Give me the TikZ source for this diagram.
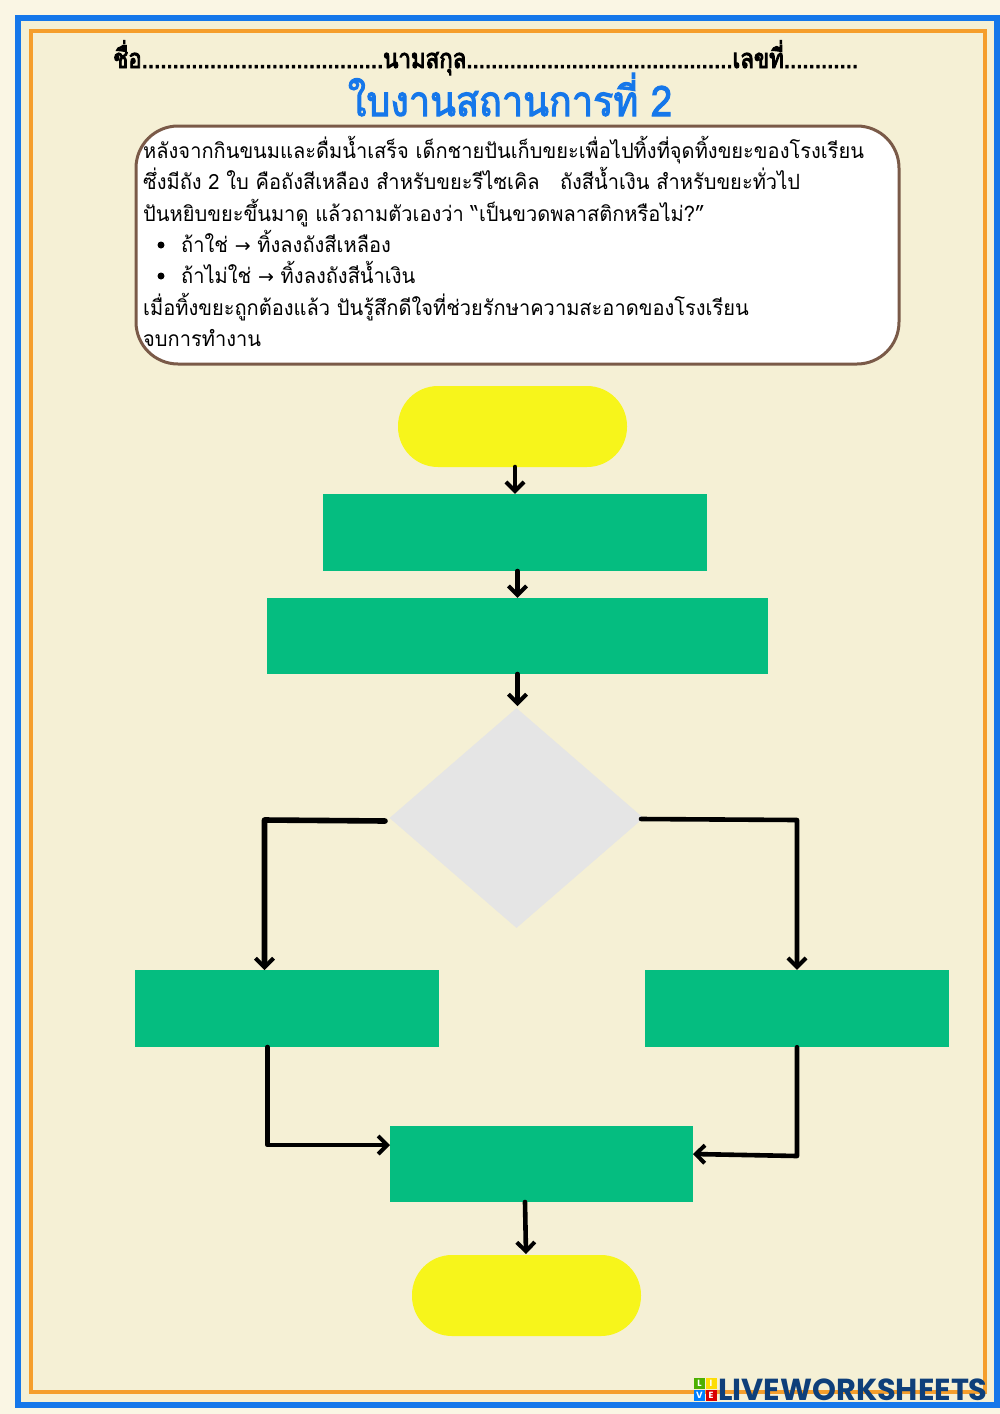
\documentclass[tikz,border=0pt]{standalone}
\usepackage{fontspec}
\usetikzlibrary{shapes.geometric,arrows.meta}
\newfontfamily\thaifont[Script=Thai,FakeStretch=0.955]{Loma}
\newfontfamily\thaihead[Script=Thai,FakeStretch=0.825,FakeBold=3.5]{Loma}
\newfontfamily\thaititle[Script=Thai,FakeStretch=0.9,FakeBold=2.5]{Loma}
\newfontfamily\arrowfont{DejaVu Sans}
\newfontfamily\logofont{Poppins}
\definecolor{pagebg}{HTML}{F5F0D5}
\definecolor{outerbg}{HTML}{FAF6E4}
\definecolor{blueframe}{HTML}{1577EA}
\definecolor{orangeframe}{HTML}{F59E2C}
\definecolor{greenbox}{HTML}{05BD80}
\definecolor{yellowcap}{HTML}{F7F51B}
\definecolor{greydiam}{HTML}{E5E5E5}
\definecolor{brownline}{HTML}{7A5A48}
\definecolor{logoblue}{HTML}{0E3F7A}
\tikzset{
  x=1pt,y=-1pt,
  flowbox/.style={rectangle,fill=greenbox,draw=none,inner sep=0pt},
  capsule/.style={rectangle,rounded corners=40pt,fill=yellowcap,draw=none,inner sep=0pt,minimum width=229pt,minimum height=81pt},
  conn/.style={draw=black,line width=4.6pt,line cap=round,line join=round,-{Straight Barb[length=9pt,width=18pt,line width=4pt]}},
  connwide/.style={conn,line width=5.6pt},
  bodyline/.style={anchor=base west,inner sep=0pt,font=\thaifont\fontsize{21}{25}\selectfont,text=black},
  lettersq/.style={rectangle,minimum size=11pt,inner sep=0pt,text=white,font=\logofont\bfseries\fontsize{9}{9}\selectfont},
}
\begin{document}
\begin{tikzpicture}
\useasboundingbox (0,0) rectangle (1000,1414);
\fill[outerbg] (0,0) rectangle (1000,1414);
\fill[pagebg] (18,18) rectangle (997,1405);
\draw[blueframe,line width=6.5pt] (18,18) rectangle (997,1405);
\draw[orangeframe,line width=3.5pt] (31,31) rectangle (985,1392);

\node[anchor=base west,inner sep=0pt,font=\thaihead\fontsize{27}{30}\selectfont] (head) at (113,68) {ชื่อ.......................................นามสกุล...........................................เลขที่............};
\node[anchor=base,inner sep=0pt,text=blueframe,font=\thaititle\fontsize{42}{46}\selectfont] (title) at (510,116) {ใบงานสถานการที่ 2};

\node[rectangle,rounded corners=42pt,fill=white,draw=brownline,line width=3pt,minimum width=763pt,minimum height=238pt,inner sep=0pt] (story) at (517.5,245) {};
\node[bodyline] (l1) at (143,158) {หลังจากกินขนมและดื่มน้ำเสร็จ เด็กชายปันเก็บขยะเพื่อไปทิ้งที่จุดทิ้งขยะของโรงเรียน};
\node[bodyline] (l2) at (143,189) {ซึ่งมีถัง 2 ใบ คือถังสีเหลือง สำหรับขยะรีไซเคิล \ \ ถังสีน้ำเงิน สำหรับขยะทั่วไป};
\node[bodyline] (l3) at (143,221) {ปันหยิบขยะขึ้นมาดู แล้วถามตัวเองว่า “เป็นขวดพลาสติกหรือไม่?”};
\node[circle,fill=black,minimum size=7pt,inner sep=0pt] (b1) at (161,245) {};
\node[bodyline] (l4) at (181,252) {ถ้าใช่ {\arrowfont\fontsize{19}{25}\selectfont →} ทิ้งลงถังสีเหลือง};
\node[circle,fill=black,minimum size=7pt,inner sep=0pt] (b2) at (161,276) {};
\node[bodyline] (l5) at (181,283) {ถ้าไม่ใช่ {\arrowfont\fontsize{19}{25}\selectfont →} ทิ้งลงถังสีน้ำเงิน};
\node[bodyline] (l6) at (143,315) {เมื่อทิ้งขยะถูกต้องแล้ว ปันรู้สึกดีใจที่ช่วยรักษาความสะอาดของโรงเรียน};
\node[bodyline] (l7) at (143,346) {จบการทำงาน};

\node[capsule] (start) at (512.5,426.5) {};
\node[flowbox,minimum width=384pt,minimum height=77pt] (read) at (515,532.5) {};
\node[flowbox,minimum width=501pt,minimum height=76pt] (pick) at (517.5,636) {};
\node[diamond,fill=greydiam,draw=none,inner sep=0pt,aspect=1.145,minimum width=254pt,minimum height=220pt] (ask) at (516.5,818) {};
\node[flowbox,minimum width=304pt,minimum height=77pt] (yes) at (287,1008.5) {};
\node[flowbox,minimum width=304pt,minimum height=77pt] (no) at (797,1008.5) {};
\node[flowbox,minimum width=303pt,minimum height=76pt] (feel) at (541.5,1164) {};
\node[capsule] (stop) at (526.5,1295.5) {};

\coordinate (askL) at (385,821);
\coordinate (askR) at (641,819);
\coordinate (yesT) at (264.5,970);
\coordinate (yesB) at (267.5,1047);
\coordinate (feelL) at (390,1145);
\coordinate (feelR) at (693,1154);
\coordinate (feelB) at (525,1202);
\coordinate (stopT) at (526,1254);
\coordinate (startB) at (515,467);
\coordinate (readB) at (517.5,571);
\coordinate (pickB) at (517.5,674);
\coordinate (askT) at (517.5,706);

\draw[conn] (startB) -- (read.north);
\draw[conn] (readB) -- (pick.north);
\draw[conn] (pickB) -- (askT);
\draw[connwide] (askL) -- (264.5,820) -- (yesT);
\draw[conn] (askR) -- (797,820) -- (no.north);
\draw[conn] (yesB) -- (267.5,1145) -- (feelL);
\draw[conn] (no.south) -- (797,1156) -- (feelR);
\draw[conn] (feelB) -- (stopT);

\node[lettersq,fill=green!55!black!70!yellow] (sqL) at (699.5,1383.5) {L};
\node[lettersq,fill=yellow!80!orange] (sqI) at (711,1383.5) {I};
\node[lettersq,fill=blue!50!cyan] (sqV) at (699.5,1395) {V};
\node[lettersq,fill=red!85!black] (sqE) at (711,1395) {E};
\node[anchor=base west,inner sep=0pt,text=logoblue,font=\logofont\bfseries\fontsize{30.4}{32}\selectfont] (logo) at (718,1400.5) {LIVEWORKSHEETS};
\end{tikzpicture}
\end{document}
